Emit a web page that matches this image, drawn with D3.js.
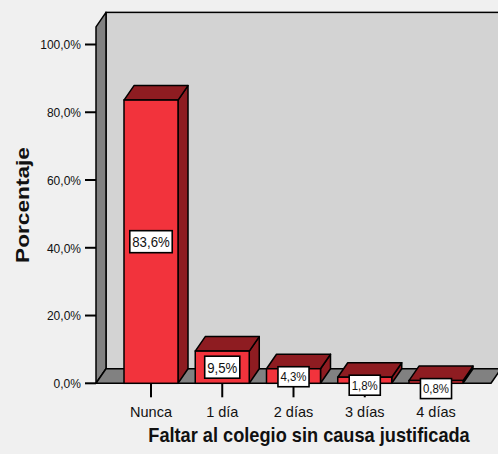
<!DOCTYPE html>
<html><head><meta charset="utf-8">
<script src="https://cdn.jsdelivr.net/npm/d3@7"></script>
<style>
html,body{margin:0;padding:0;background:#f0f0f0;}
svg{display:block;font-family:"Liberation Sans",Arial,sans-serif;}
</style></head><body>
<svg id="c" width="498" height="454"></svg>
<script>
const categories = ["Nunca", "1 día", "2 días", "3 días", "4 días"];
const values = [83.6, 9.5, 4.3, 1.8, 0.8];
const valueLabels = ["83,6%", "9,5%", "4,3%", "1,8%", "0,8%"];
const yTicks = [0, 20, 40, 60, 80, 100];
const yTickLabels = ["0,0%", "20,0%", "40,0%", "60,0%", "80,0%", "100,0%"];
const xTitle = "Faltar al colegio sin causa justificada";
const yTitle = "Porcentaje";

const svg = d3.select("#c");
const W = 498, H = 454;
const dx = 10, dy = -14.5;
const y = d3.scaleLinear().domain([0, 100]).range([383.3, 44.5]);
const x = d3.scaleBand().domain(categories).range([96, 491]).paddingInner(0.242).paddingOuter(0.393);
const x0 = 96, x1 = 491, y0 = y(0), yTop = y(105.2);

const C = {bg:"#f0f0f0", wall:"#d3d3d3", side:"#818181", front:"#f2333c", dark:"#8e1c21"};
svg.append("rect").attr("width", W).attr("height", H).attr("fill", C.bg);

// back wall
svg.append("rect").attr("x", x0 + dx).attr("y", yTop + dy).attr("width", 600).attr("height", y0 - yTop)
  .attr("fill", C.wall).attr("stroke", "#000").attr("stroke-width", 1.5);
// left wall
svg.append("polygon").attr("points", [[x0, yTop], [x0 + dx, yTop + dy], [x0 + dx, y0 + dy], [x0, y0]].join(" "))
  .attr("fill", C.side).attr("stroke", "#000").attr("stroke-width", 1.5).attr("stroke-linejoin", "round");
// floor
svg.append("polygon").attr("points", [[x0, y0], [x0 + dx, y0 + dy], [x1 + dx, y0 + dy], [x1, y0]].join(" "))
  .attr("fill", C.side).attr("stroke", "#000").attr("stroke-width", 1.5).attr("stroke-linejoin", "round");

// y ticks
svg.selectAll(".yt").data(yTicks).join("line")
  .attr("x1", 85).attr("x2", x0).attr("y1", d => y(d)).attr("y2", d => y(d))
  .attr("stroke", "#000").attr("stroke-width", 2);
const ytl = svg.selectAll(".ytl").data(yTicks).join("text")
  .attr("x", 81).attr("y", d => y(d)).attr("dy", "0.36em").attr("text-anchor", "end")
  .attr("font-size", 13.5).attr("fill", "#111").text((d, i) => yTickLabels[i]);
ytl.each(function(){ const l = this.getComputedTextLength(); d3.select(this).attr("textLength", l*0.89).attr("lengthAdjust","spacingAndGlyphs"); });

// x ticks
svg.selectAll(".xt").data(categories).join("line")
  .attr("x1", d => x(d) + x.bandwidth()/2).attr("x2", d => x(d) + x.bandwidth()/2)
  .attr("y1", y0).attr("y2", y0 + 14).attr("stroke", "#000").attr("stroke-width", 2);
svg.selectAll(".xtl").data(categories).join("text")
  .attr("x", d => x(d) + x.bandwidth()/2).attr("y", 416.5).attr("text-anchor", "middle")
  .attr("font-size", 14.5).attr("fill", "#111").text(d => d);

// bars
const bw = x.bandwidth();
const bars = svg.selectAll(".bar").data(categories.map((c, i) => ({c, v: values[i], lab: valueLabels[i]}))).join("g");
bars.append("polygon").attr("points", d => { const l = x(d.c), t = y(d.v);
  return [[l + bw, t], [l + bw + dx, t + dy], [l + bw + dx, y0 + dy], [l + bw, y0]].join(" "); })
  .attr("fill", C.dark).attr("stroke", "#000").attr("stroke-width", 1.5).attr("stroke-linejoin", "round");
bars.append("polygon").attr("points", d => { const l = x(d.c), t = y(d.v);
  return [[l, t], [l + dx, t + dy], [l + bw + dx, t + dy], [l + bw, t]].join(" "); })
  .attr("fill", C.dark).attr("stroke", "#000").attr("stroke-width", 1.5).attr("stroke-linejoin", "round");
bars.append("rect").attr("x", d => x(d.c)).attr("y", d => y(d.v)).attr("width", bw).attr("height", d => y0 - y(d.v))
  .attr("fill", C.front).attr("stroke", "#000").attr("stroke-width", 1.5);

// value labels
bars.each(function(d){
  const g = d3.select(this);
  const fs = (y0 - y(d.v)) > 25 ? 15 : 13;
  const t = g.append("text").attr("font-size", fs).attr("text-anchor", "middle").attr("fill", "#111").text(d.lab);
  const tl = t.node().getComputedTextLength() * 0.88;
  t.attr("textLength", tl).attr("lengthAdjust", "spacingAndGlyphs");
  const bh = fs + 7, bwid = tl + 5;
  const cx = x(d.c) + bw/2;
  const mid = (y(d.v) + y0) / 2;
  const cy = Math.max(mid, y(d.v) + bh/2 - 2);
  g.insert("rect", "text").attr("x", cx - bwid/2).attr("y", cy - bh/2).attr("width", bwid).attr("height", bh)
    .attr("fill", "#fff").attr("stroke", "#000").attr("stroke-width", 1.6);
  t.attr("x", cx).attr("y", cy).attr("dy", "0.36em");
});

// titles
svg.append("g").attr("transform", "translate(309,441.5) scale(0.91,1)")
  .append("text").attr("x", 0).attr("y", 0).attr("text-anchor", "middle")
  .attr("font-size", 20).attr("font-weight", "bold").attr("fill", "#111").text(xTitle);
svg.append("text").attr("transform", "translate(28.5,205) rotate(-90)").attr("text-anchor", "middle")
  .attr("font-size", 18.5).attr("font-weight", "bold").attr("fill", "#111")
  .attr("textLength", 116).attr("lengthAdjust", "spacingAndGlyphs").text(yTitle);
</script>
</body></html>
